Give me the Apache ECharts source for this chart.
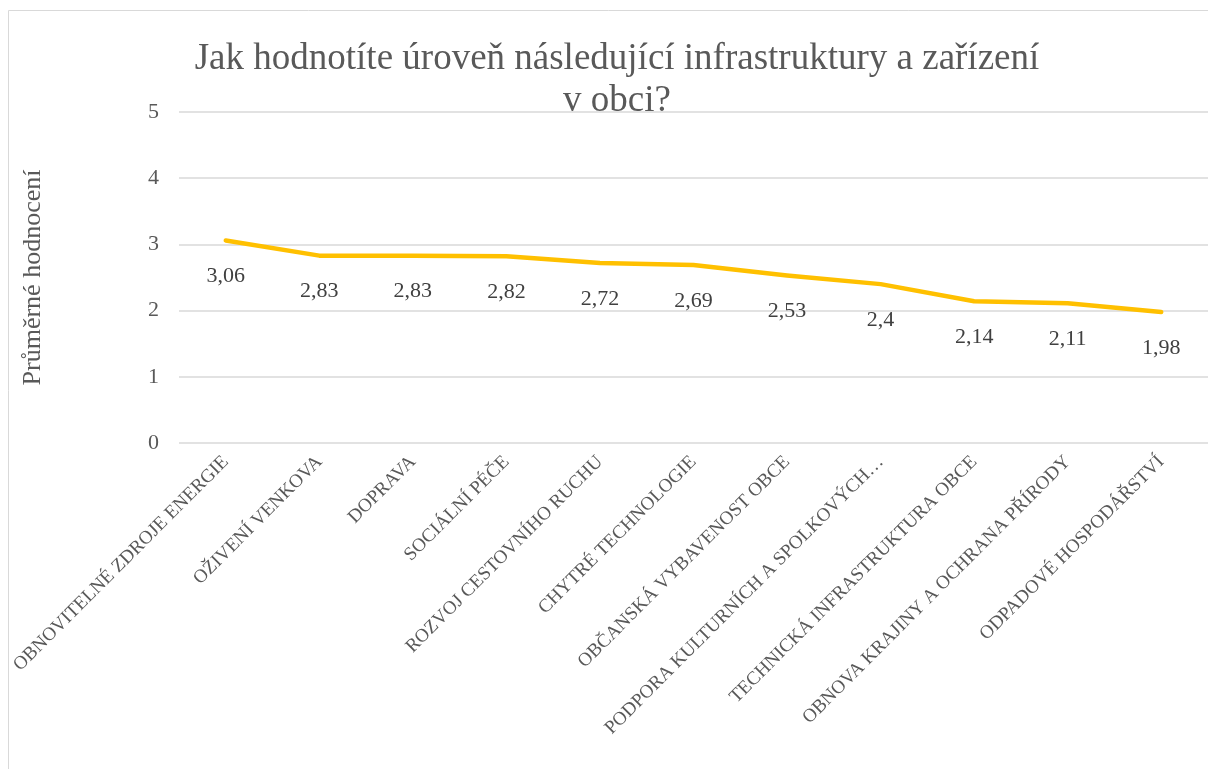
<!DOCTYPE html>
<html>
<head>
<meta charset="utf-8">
<script src="https://cdn.jsdelivr.net/npm/echarts@6/dist/echarts.min.js"></script>
<style>
  html, body { margin: 0; padding: 0; background: #fff; }
  #chart { width: 1208px; height: 769px; }
</style>
</head>
<body>
<div id="chart"></div>
<script>
const categories = [
  "OBNOVITELNÉ ZDROJE ENERGIE",
  "OŽIVENÍ VENKOVA",
  "DOPRAVA",
  "SOCIÁLNÍ PÉČE",
  "ROZVOJ CESTOVNÍHO RUCHU",
  "CHYTRÉ TECHNOLOGIE",
  "OBČANSKÁ VYBAVENOST OBCE",
  "PODPORA KULTURNÍCH A SPOLKOVÝCH…",
  "TECHNICKÁ INFRASTRUKTURA OBCE",
  "OBNOVA KRAJINY A OCHRANA PŘÍRODY",
  "ODPADOVÉ HOSPODÁŘSTVÍ"
];
const values = [3.06, 2.83, 2.83, 2.82, 2.72, 2.69, 2.53, 2.4, 2.14, 2.11, 1.98];
const yTicks = [0, 1, 2, 3, 4, 5];

const font = "'Liberation Serif', 'Times New Roman', serif";
const grey = "#595959";

const chart = echarts.init(document.getElementById("chart"));
chart.setOption({
  animation: false,
  textStyle: { fontFamily: font },
  graphic: [{
    type: "rect",
    shape: { x: 8.5, y: 10.5, width: 1220, height: 800 },
    style: { fill: "none", stroke: "#d9d9d9", lineWidth: 1 },
    silent: true
  }],
  title: {
    text: "Jak hodnotíte úroveň následující infrastruktury a zařízení\nv obci?",
    left: 612,
    textAlign: "center",
    top: 33,
    textStyle: { fontFamily: font, fontSize: 37, fontWeight: "normal", color: grey, lineHeight: 42 }
  },
  grid: { left: 179, right: -9, top: 112, bottom: 769 - 443 },
  xAxis: {
    type: "category",
    data: categories,
    boundaryGap: true,
    axisLine: { show: false },
    axisTick: { show: false },
    axisLabel: {
      rotate: 45,
      interval: 0,
      margin: 16,
      fontFamily: font,
      fontSize: 19,
      color: grey
    }
  },
  yAxis: {
    type: "value",
    min: yTicks[0],
    max: yTicks[yTicks.length - 1],
    interval: 1,
    name: "Průměrné hodnocení",
    nameLocation: "middle",
    nameGap: 133,
    nameTextStyle: { fontFamily: font, fontSize: 26, color: grey },
    axisLine: { show: false },
    axisTick: { show: false },
    axisLabel: { fontFamily: font, fontSize: 22, color: grey, margin: 20 },
    splitLine: { lineStyle: { color: "#d9d9d9", width: 1.5 } }
  },
  series: [{
    type: "line",
    data: values,
    showSymbol: true,
    symbol: "circle",
    symbolSize: 2,
    lineStyle: { color: "#FFC000", width: 4.5, cap: "round", join: "round" },
    itemStyle: { color: "rgba(0,0,0,0)" },
    label: {
      show: true,
      position: "bottom",
      distance: 24,
      fontFamily: font,
      fontSize: 22,
      color: "#404040",
      formatter: p => String(p.value).replace(".", ",")
    }
  }]
});
</script>
</body>
</html>
